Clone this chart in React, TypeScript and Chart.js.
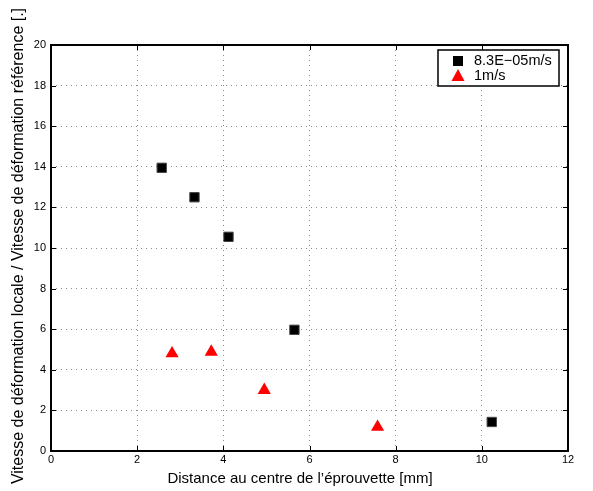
import React, { useEffect, useRef } from "react";
import { Chart, registerables } from "chart.js";

Chart.register(...registerables);

const slowX = [2.57, 3.33, 4.12, 5.65, 10.23];
const slowY = [13.95, 12.5, 10.55, 5.97, 1.43];
const fastX = [2.81, 3.72, 4.95, 7.58];
const fastY = [4.8, 4.88, 3.0, 1.18];
const seriesNames = ["8.3E\u221205m/s", "1m/s"];
const xTitle = "Distance au centre de l\u2019\u00e9prouvette [mm]";
const yTitle = "Vitesse de d\u00e9formation locale / Vitesse de d\u00e9formation r\u00e9f\u00e9rence [.]";

const FONT = "Liberation Sans, Arial, sans-serif";

const framePlugin = {
  id: "frame",
  afterDraw(chart: any) {
    const { ctx, chartArea: a, scales } = chart;
    ctx.save();
    ctx.strokeStyle = "#000";
    ctx.lineWidth = 1;
    const xs = scales.x;
    const ys = scales.y;
    ctx.beginPath();
    for (let v = 0; v <= 12; v += 2) {
      const px = Math.round(xs.getPixelForValue(v)) + 0.5;
      ctx.moveTo(px, a.bottom);
      ctx.lineTo(px, a.bottom - 5);
      ctx.moveTo(px, a.top);
      ctx.lineTo(px, a.top + 5);
    }
    for (let v = 0; v <= 20; v += 2) {
      const py = Math.round(ys.getPixelForValue(v)) + 0.5;
      ctx.moveTo(a.left, py);
      ctx.lineTo(a.left + 5, py);
      ctx.moveTo(a.right, py);
      ctx.lineTo(a.right - 5, py);
    }
    ctx.stroke();
    ctx.lineWidth = 2;
    ctx.strokeRect(a.left, a.top, a.right - a.left, a.bottom - a.top);

    // axis titles
    ctx.fillStyle = "#000";
    ctx.font = "15px " + FONT;
    ctx.textAlign = "center";
    ctx.textBaseline = "alphabetic";
    ctx.fillText(xTitle, 300, 483);
    ctx.save();
    ctx.font = "16px " + FONT;
    ctx.translate(23, 246);
    ctx.rotate(-Math.PI / 2);
    ctx.fillText(yTitle, 0, 0);
    ctx.restore();

    // legend
    const lx = 438, ly = 50, lw = 121, lh = 36;
    ctx.fillStyle = "#fff";
    ctx.fillRect(lx, ly, lw, lh);
    ctx.lineWidth = 1.5;
    ctx.strokeStyle = "#000";
    ctx.strokeRect(lx, ly, lw, lh);
    ctx.fillStyle = "#000";
    ctx.fillRect(458 - 5, 61 - 5, 10, 10);
    ctx.fillStyle = "#ff0000";
    ctx.beginPath();
    ctx.moveTo(458, 69);
    ctx.lineTo(464.5, 81);
    ctx.lineTo(451.5, 81);
    ctx.closePath();
    ctx.fill();
    ctx.fillStyle = "#000";
    ctx.font = "14.5px " + FONT;
    ctx.textBaseline = "middle";
    ctx.textAlign = "left";
    ctx.fillText(seriesNames[0], 474, 61);
    ctx.fillText(seriesNames[1], 474, 76);
    ctx.restore();
  },
};

export default function App() {
  const ref = useRef<HTMLCanvasElement>(null);
  useEffect(() => {
    document.body.style.margin = "0";
    const chart = new Chart(ref.current!, {
      type: "scatter",
      data: {
        datasets: [
          {
            label: seriesNames[0],
            data: slowX.map((x, i) => ({ x, y: slowY[i] })),
            pointStyle: "rect",
            pointRadius: 6.6,
            backgroundColor: "#000",
            borderColor: "#444",
            borderWidth: 1,
          },
          {
            label: seriesNames[1],
            data: fastX.map((x, i) => ({ x, y: fastY[i] })),
            pointStyle: "triangle",
            pointRadius: 7.6,
            backgroundColor: "#ff0000",
            borderColor: "#ff0000",
            borderWidth: 0,
          },
        ],
      },
      options: {
        animation: false,
        responsive: false,
        maintainAspectRatio: false,
        layout: { padding: { left: 0, right: 25, top: 45, bottom: 0 } },
        plugins: { legend: { display: false }, tooltip: { enabled: false } },
        scales: {
          x: {
            type: "linear",
            min: 0,
            max: 12,
            ticks: { stepSize: 2, color: "#000", font: { family: FONT, size: 11 }, padding: 2 },
            grid: { color: "#8a8a8a", drawTicks: false, tickLength: 0 },
            border: { display: false, dash: [1, 4] },
            title: { display: false },
            afterFit(axis: any) { axis.height = 40; },
          } as any,
          y: {
            type: "linear",
            min: 0,
            max: 20,
            ticks: { stepSize: 2, color: "#000", font: { family: FONT, size: 11 }, padding: 5 },
            grid: { color: "#8a8a8a", drawTicks: false, tickLength: 0 },
            border: { display: false, dash: [1, 4] },
            title: { display: false },
            afterFit(axis: any) { axis.width = 51; },
          } as any,
        },
      },
      plugins: [framePlugin],
    });
    return () => chart.destroy();
  }, []);
  return (
    <div style={{ position: "absolute", left: 0, top: 0, width: 593, height: 491, background: "#fff" }}>
      <canvas ref={ref} width={593} height={491} style={{ width: 593, height: 491 }} />
    </div>
  );
}
